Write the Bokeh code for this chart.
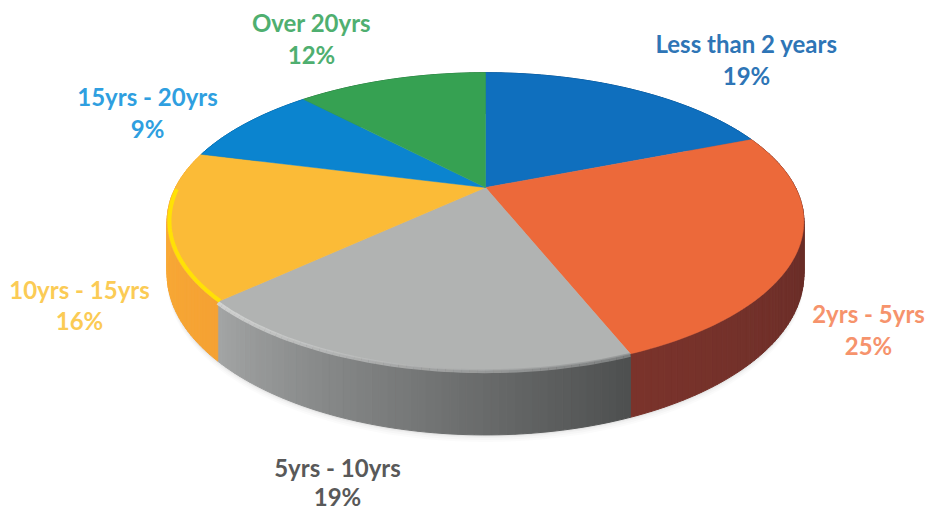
import math
from bokeh.plotting import figure
from bokeh.models import ColumnDataSource
from bokeh.core.properties import value
from bokeh.embed import file_html
from bokeh.resources import INLINE

categories = ["Less than 2 years", "2yrs - 5yrs", "5yrs - 10yrs", "10yrs - 15yrs", "15yrs - 20yrs", "Over 20yrs"]
shares = [19, 25, 19, 16, 9, 12]

top_colors = ["#0F6FBE", "#EC693A", "#B1B3B2", "#FBBB37", "#0B84CF", "#36A152"]
side_from = ["#0A4F88", "#5E2A26", "#4E5050", "#F5A233", "#0A5F96", "#26733A"]
side_to = ["#0A4F88", "#7A332B", "#A2A4A4", "#FBAE38", "#0A5F96", "#26733A"]
label_colors = ["#2E75B6", "#F6936C", "#595959", "#FBCB55", "#2F9FE0", "#4FAF70"]

# layout of the drawing (screen pixels)
CX, CY, RX, RY, K, DEPTH = 485, 187, 310, 141, 0.228, 50
LABEL_X = [746, 868, 337, 79, 147, 311]
LABEL_Y = [43, 313, 467, 289, 96, 22]
PCT_Y = [75, 345, 496, 320, 128, 54]


def project(theta, radius=1.0):
    x, y = radius * math.sin(theta), radius * math.cos(theta)
    w = 1 + K * y
    return CX + RX * x / w, CY - RY * y / w, w


def rim(a, b, n):
    return [a + (b - a) * i / n for i in range(n + 1)]


def mix(c1, c2, t):
    v1 = [int(c1[i:i + 2], 16) for i in (1, 3, 5)]
    v2 = [int(c2[i:i + 2], 16) for i in (1, 3, 5)]
    return "#%02x%02x%02x" % tuple(round(p + (q - p) * t) for p, q in zip(v1, v2))


p = figure(width=925, height=512, x_range=(0, 925), y_range=(512, 0),
           output_backend="svg", toolbar_location=None, min_border=0)
p.axis.visible = False
p.grid.visible = False
p.outline_line_color = None
p.background_fill_color = "white"
p.border_fill_color = "white"

total = sum(shares)
edges = [0.0]
for s in shares:
    edges.append(edges[-1] + 2 * math.pi * s / total)

# soft shadow under the disc
for off, alpha in ((7, 0.03), (5, 0.04), (3, 0.06), (1.5, 0.10)):
    tt = rim(math.pi / 3, 5 * math.pi / 3, 120)
    xs = [project(t)[0] for t in tt]
    ys = [project(t)[1] + DEPTH / project(t)[2] + off for t in tt]
    p.patch(xs, ys, fill_color="#808080", fill_alpha=alpha, line_color=None)

# side wall, one strip per small step of each slice
qx, qy, qc = [], [], []
for i in range(len(shares)):
    a, b = edges[i], edges[i + 1]
    n = max(4, int((b - a) / 0.02))
    tt = rim(a, b, n)
    for j in range(n):
        x0, y0, w0 = project(tt[j])
        x1, y1, w1 = project(tt[j + 1])
        qx.append([x0, x1, x1, x0])
        qy.append([y0, y1, y1 + DEPTH / w1, y0 + DEPTH / w0])
        qc.append(mix(side_from[i], side_to[i], j / max(1, n - 1)))
p.patches(qx, qy, fill_color=qc, line_color=qc, line_width=1)

# top surface
tx, ty = [], []
for i in range(len(shares)):
    tt = rim(edges[i], edges[i + 1], 80)
    tx.append([CX] + [project(t)[0] for t in tt])
    ty.append([CY] + [project(t)[1] for t in tt])
p.patches(tx, ty, fill_color=top_colors, line_color=top_colors, line_width=0.5)

# soft light band on the gray slice's rim, brighter towards the left
tt = rim(edges[2], edges[3], 60)
n = len(tt) - 1
for j in range(n):
    t = j / (n - 1)
    c = mix("#8E9090", "#DEDFDE", t)
    a, b = tt[j], tt[j + 1]
    p.line([project(a, 1.0)[0], project(b, 1.0)[0]],
           [project(a, 1.0)[1] + 1, project(b, 1.0)[1] + 1],
           line_color=c, line_width=4, line_alpha=0.75)

# yellow band along the lower left of the yellow slice
tt = [t for t in rim(edges[3], edges[4], 80) if t < 1.5 * math.pi]
p.line([project(t, 0.993)[0] for t in tt], [project(t, 0.993)[1] for t in tt],
       line_color="#FFE600", line_width=4, line_alpha=0.9)

# labels
lab = ColumnDataSource(dict(
    x=LABEL_X + LABEL_X,
    y=LABEL_Y + PCT_Y,
    t=categories + [f"{s}%" for s in shares],
    c=label_colors + label_colors,
))
p.text("x", "y", text="t", source=lab, text_color="c", text_align="center",
       text_baseline="middle", text_font=value("Lato"), text_font_style="bold",
       text_font_size="24px")

open("out.html", "w").write(file_html(p, INLINE))
